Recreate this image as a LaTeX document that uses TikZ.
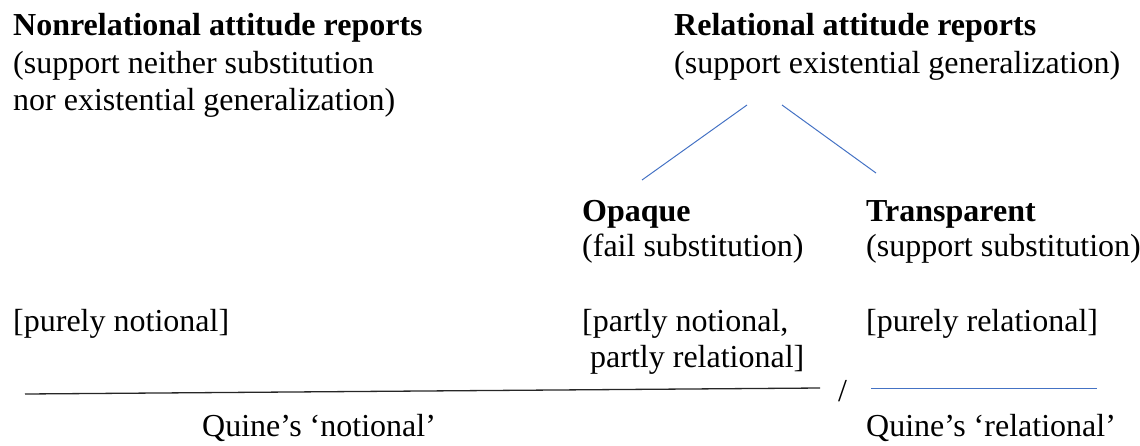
\documentclass[tikz,border=0pt]{standalone}
\usepackage{fontspec}
\setmainfont{Liberation Serif}
\begin{document}
\begin{tikzpicture}[x=1pt,y=-1pt,
  txt/.style={anchor=base west,inner sep=0pt,font=\fontsize{32}{38}\selectfont},
  bld/.style={txt,font=\fontsize{32}{38}\selectfont\bfseries},
  tree/.style={draw=wordblue,line width=1pt},
  rule/.style={draw=black!85,line width=1.3pt}]
\definecolor{wordblue}{HTML}{4472C4}
\useasboundingbox (0,0) rectangle (1140,445);
% left column
\node[bld] (nonrel) at (13,35) {Nonrelational attitude reports};
\node[txt] (nonrel2) at (13,73) {(support neither substitution};
\node[txt] (nonrel3) at (13,110) {nor existential generalization)};
% right top
\node[bld] (rel) at (674,35) {Relational attitude reports};
\node[txt] (rel2) at (674,73) {(support existential generalization)};
% second level
\node[bld] (opq) at (582,221) {Opaque};
\node[txt] (opq2) at (582,256) {(fail substitution)};
\node[bld] (trn) at (866,221) {Transparent};
\node[txt] (trn2) at (866,256) {(support substitution)};
% bracket labels
\node[txt] (pn) at (13,331) {[purely notional]};
\node[txt] (pnpr) at (582,331) {[partly notional,};
\node[txt] (pnpr2) at (590,367) {partly relational]};
\node[txt] (pr) at (866,331) {[purely relational]};
% tree connectors
\coordinate (r1) at (747,105);
\coordinate (o1) at (642,180);
\coordinate (r2) at (782,105);
\coordinate (t1) at (876,173);
\draw[tree] (r1) -- (o1);
\draw[tree] (r2) -- (t1);
% bottom rules
\coordinate (la) at (25,394);
\coordinate (lb) at (820,388);
\draw[rule] (la) -- (lb);
\node[txt] (slash) at (838,401) {/};
\coordinate (ba) at (871,388);
\coordinate (bb) at (1097,388);
\draw[tree] (ba) -- (bb);
\node[txt] (qn) at (202,436) {Quine’s ‘notional’};
\node[txt] (qr) at (866,436) {Quine’s ‘relational’};
\end{tikzpicture}
\end{document}
